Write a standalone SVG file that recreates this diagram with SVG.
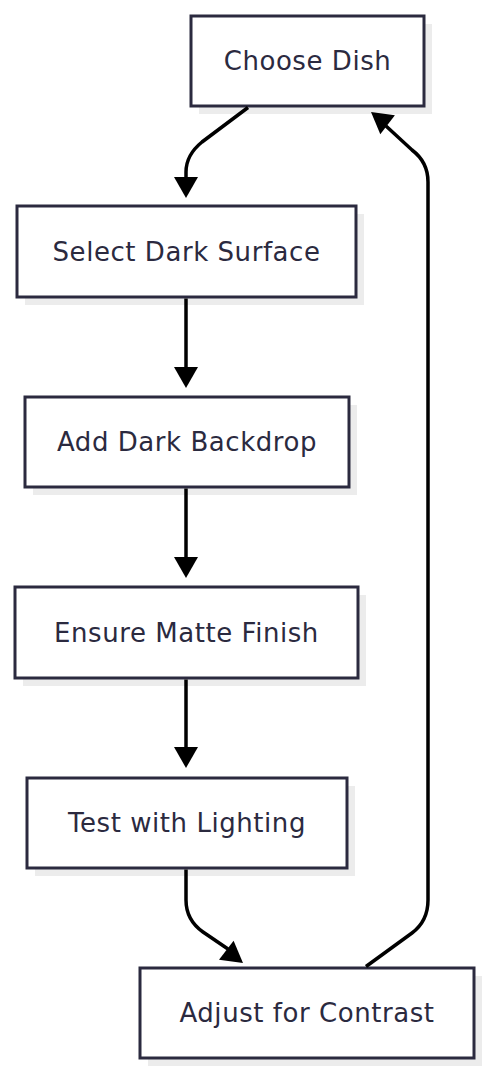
<svg xmlns="http://www.w3.org/2000/svg" width="493" height="1080" viewBox="0 0 493 1080">
<defs>
<style>
.box{fill:#ffffff;stroke:#2b2a3f;stroke-width:3}
.sh{fill:#ececec}
.lbl{font-family:"DejaVu Sans","Liberation Sans",sans-serif;font-size:26px;letter-spacing:0.55px;fill:#2b2a3f;text-anchor:middle;dominant-baseline:central}
.edge{fill:none;stroke:#000;stroke-width:3.5}
.head{fill:#000}
</style>
</defs>
<rect width="493" height="1080" fill="#fff"/>
<g id="n1"><rect class="sh" x="199" y="24" width="233" height="90"/><rect class="box" x="191" y="16" width="233" height="90"/><text class="lbl" x="307.5" y="61">Choose Dish</text></g>
<g id="n2"><rect class="sh" x="25" y="214" width="339" height="91"/><rect class="box" x="17" y="206" width="339" height="91"/><text class="lbl" x="186.5" y="251.5">Select Dark Surface</text></g>
<g id="n3"><rect class="sh" x="33" y="405" width="324" height="90"/><rect class="box" x="25" y="397" width="324" height="90"/><text class="lbl" x="187" y="442">Add Dark Backdrop</text></g>
<g id="n4"><rect class="sh" x="23" y="595" width="343" height="91"/><rect class="box" x="15" y="587" width="343" height="91"/><text class="lbl" x="186.5" y="632.5">Ensure Matte Finish</text></g>
<g id="n5"><rect class="sh" x="35" y="786" width="320" height="90"/><rect class="box" x="27" y="778" width="320" height="90"/><text class="lbl" x="187" y="823">Test with Lighting</text></g>
<g id="n6"><rect class="sh" x="148" y="976" width="334" height="90"/><rect class="box" x="140" y="968" width="334" height="90"/><text class="lbl" x="307" y="1013">Adjust for Contrast</text></g>
<g id="connectors">
<path class="edge" d="M248,107.5 L202,142 Q186,155 186,172 L186,180"/>
<polygon class="head" points="174,177 198,177 186,198"/>
<path class="edge" d="M186,298.5 L186,370"/>
<polygon class="head" points="174,367 198,367 186,388"/>
<path class="edge" d="M186,488.5 L186,560"/>
<polygon class="head" points="174,557 198,557 186,578"/>
<path class="edge" d="M186,679.5 L186,750"/>
<polygon class="head" points="174,747 198,747 186,768"/>
<path class="edge" d="M186,869.5 L186,900 Q186,920 203,932 L228,949"/>
<polygon class="head" points="219,959.7 233.6,940.7 243,963"/>
<path class="edge" d="M366,966.5 L412,933 Q428,921 428,900 L428,182 Q428,162 412,150 L386,126"/>
<polygon class="head" points="394.9,115.3 380.3,134.3 371,112"/>
</g>
</svg>
